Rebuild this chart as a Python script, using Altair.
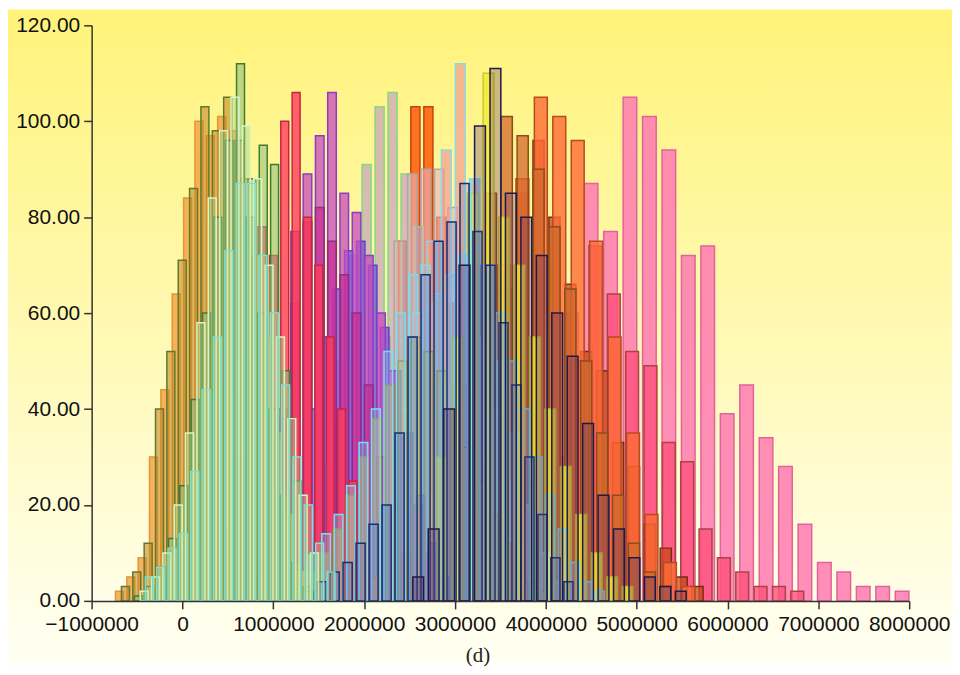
import altair as alt
import pandas as pd

# ---- data -------------------------------------------------------------
# draw order (back -> front)
names = ["U", "S", "T", "R", "Q", "K", "J", "M", "L", "I", "G", "H", "F",
         "W", "V", "O", "N", "P", "A", "B", "C", "D", "E"]
fills = ["#FF7AB2", "#FF507C", "#CA461C", "#FF6C36", "#D26A2C", "#FF5A0A",
         "#C6A2BA", "#E6B2C2", "#F39C8E", "#7C52D8", "#C84CBC", "#C42C94",
         "#FF3C5C", "#C2BA4A", "#F2EA32", "#92CAF0", "#3C72D2", "#5A3070",
         "#F6A545", "#C48A28", "#8DBE78", "#A8D88A", "#B8E0A0"]
strokes = ["#E0649A", "#A84444", "#7C2C12", "#B44C22", "#8C4C1C", "#C24410",
           "#86D886", "#B4A4A8", "#8CD8EA", "#5C42C4", "#8A3CC8", "#8C2C8C",
           "#C02848", "#8C8C32", "#C8CC24", "#72E2F2", "#1C2C74", "#1E1A4C",
           "#E0963A", "#5E7A2E", "#3E7A3C", "#D6F6C6", "#7FE0D0"]
fill_opacity = [0.85, 0.8, 0.75, 0.8, 0.75, 0.85,
                0.7, 0.6, 0.7, 0.75, 0.75, 0.7,
                0.8, 0.5, 0.8, 0.35, 0.25, 0.3,
                0.85, 0.6, 0.55, 0.45, 0.3]
# first bin centre and bin width of each series
starts = [3428000, 4142000, 3045000, 3133000, 2870000, 1992000,
          1455000, 1938000, 2442000, 1170000, 836000, 836000,
          501000, 1280000, 2859000, 1170000, 1389000, 2595000,
          -694000, -628000, -486000, -422000, -365000]
steps = [214000, 202000, 175000, 203000, 175000, 143000,
         143000, 148000, 154000, 132000, 135000, 135000,
         125000, 143000, 170000, 137000, 143000, 170000,
         125000, 125000, 125000, 125000, 125000]

counts_U = [5, 12, 25, 40, 60, 87, 77, 105, 101, 94, 72, 74, 39, 45, 34, 28, 16, 8, 6, 3, 3, 2]
counts_S = [30, 50, 74, 64, 52, 49, 33, 29, 15, 9, 6, 3, 3, 2]
counts_T = [10, 25, 45, 65, 85, 96, 80, 66, 52, 48, 33, 28, 16, 11, 5, 3]
counts_R = [25, 50, 70, 88, 105, 101, 96, 75, 55, 35, 18, 8, 3]
counts_Q = [20, 45, 70, 85, 101, 97, 90, 78, 65, 50, 35, 22, 12, 6, 3]
counts_K = [10, 22, 45, 75, 103, 103, 80, 62, 45, 30, 18, 8, 3]
counts_J = [12, 28, 50, 72, 91, 103, 106, 89, 78, 62, 45, 30, 18, 8, 3]
counts_M = [20, 35, 55, 75, 89, 90, 90, 82, 70, 55, 40, 25, 12, 5]
counts_L = [40, 60, 75, 94, 112, 88, 70, 50, 35, 20, 10, 4]
counts_I = [10, 22, 40, 55, 65, 73, 75, 70, 57, 48, 35, 22, 12, 5]
counts_G = [8, 20, 38, 62, 89, 97, 106, 85, 81, 72, 60, 48, 34, 20, 10, 4]
counts_H = [5, 15, 40, 77, 79, 82, 75, 68, 60, 45, 30, 20, 10, 4]
counts_F = [15, 30, 50, 78, 72, 100, 106, 80, 70, 55, 40, 25, 12, 5]
counts_W = [3, 6, 10, 15, 22, 30, 38, 45, 50, 55, 52, 48, 40, 32, 25, 18, 12, 7, 4, 2]
counts_V = [30, 55, 85, 110, 80, 70, 55, 40, 28, 18, 10, 5, 3]
counts_O = [3, 6, 10, 14, 18, 24, 33, 40, 52, 60, 68, 70, 64, 68, 72, 88, 70, 60, 50, 40, 30, 22, 15, 8, 4, 2]
counts_N = [2, 4, 6, 8, 12, 16, 20, 35, 55, 68, 75, 79, 87, 77, 70, 58, 45, 30, 18, 9, 4]
counts_P = [5, 15, 40, 70, 99, 111, 85, 80, 72, 60, 51, 37, 22, 15, 9, 5, 3, 2]
counts_A = [2, 5, 9, 30, 44, 64, 84, 100, 97, 101, 98, 88, 72, 55, 35, 18, 6]
counts_B = [3, 6, 12, 40, 52, 71, 86, 103, 98, 105, 96, 80, 60, 40, 22, 8, 3]
counts_C = [1, 3, 7, 13, 24, 42, 60, 80, 96, 112, 88, 95, 91, 48, 25, 10]
counts_D = [2, 5, 10, 20, 35, 58, 84, 98, 105, 99, 88, 70, 55, 38, 22, 10]
counts_E = [5, 7, 11, 14, 27, 44, 55, 73, 87, 87, 72, 60, 45, 30, 20, 12, 6]

counts = {"U": counts_U, "S": counts_S, "T": counts_T, "R": counts_R,
          "Q": counts_Q, "K": counts_K, "J": counts_J, "M": counts_M,
          "L": counts_L, "I": counts_I, "G": counts_G, "H": counts_H,
          "F": counts_F, "W": counts_W, "V": counts_V, "O": counts_O,
          "N": counts_N, "P": counts_P, "A": counts_A, "B": counts_B,
          "C": counts_C, "D": counts_D, "E": counts_E}

x_ticks = [-1000000, 0, 1000000, 2000000, 3000000, 4000000, 5000000, 6000000, 7000000, 8000000]
y_ticks = [0, 20, 40, 60, 80, 100, 120]
caption = "(d)"

# ---- table ------------------------------------------------------------
rows = []
for name, start, step, fo in zip(names, starts, steps, fill_opacity):
    for i, c in enumerate(counts[name]):
        centre = start + i * step
        rows.append({"series": name, "x": centre - 0.35 * step,
                     "x2": centre + 0.35 * step, "count": c, "base": 0, "fo": fo})
df = pd.DataFrame(rows)

W, H = 821, 578
PAD = {"left": 84, "top": 16, "right": 43, "bottom": 65}

gradient = alt.LinearGradient(
    gradient="linear", x1=0, y1=0, x2=0, y2=1,
    stops=[alt.GradientStop(color="#FFF37A", offset=0),
           alt.GradientStop(color="#FFF9B4", offset=0.5),
           alt.GradientStop(color="#FFFFF4", offset=1)])

bg = alt.Chart(alt.Data(values=[{"k": 1}])).mark_rect(fill=gradient, clip=False).encode(
    x=alt.value(-PAD["left"]), x2=alt.value(W + PAD["right"]),
    y=alt.value(-PAD["top"]), y2=alt.value(H + PAD["bottom"]))

bars = alt.Chart(df).mark_rect(strokeWidth=1.5).encode(
    x=alt.X("x:Q", scale=alt.Scale(domain=[-1000000, 8000000], nice=False, zero=False),
            axis=alt.Axis(values=x_ticks, format="d", title=None, grid=False, zindex=2,
                          labelOverlap=False, labelFlush=False,
                          labelFont="Liberation Sans",
                          labelFontSize=21, labelPadding=5)),
    x2="x2:Q",
    y=alt.Y("count:Q", scale=alt.Scale(domain=[0, 120], nice=False),
            axis=alt.Axis(values=y_ticks, format=".2f", title=None, grid=False, zindex=2,
                          labelFont="Liberation Sans", labelFontSize=21, labelPadding=4)),
    y2="base:Q",
    fill=alt.Fill("series:N", scale=alt.Scale(domain=names, range=fills), legend=None),
    stroke=alt.Stroke("series:N", scale=alt.Scale(domain=names, range=strokes), legend=None),
    fillOpacity=alt.FillOpacity("fo:Q", scale=None, legend=None),
)

cap = alt.Chart(alt.Data(values=[{"t": caption}])).mark_text(
    font="Liberation Serif", fontSize=21, color="#222222", baseline="middle", clip=False
).encode(text="t:N", x=alt.value(480 - 92), y=alt.value(657 - 24))

chart = alt.layer(bg, bars, cap).properties(
    width=W, height=H, padding=PAD,
    autosize=alt.AutoSizeParams(type="none"),
).configure_view(stroke=None).configure_axis(
    domainColor="#333333", tickColor="#333333", domainWidth=1.5, tickWidth=1.5,
    tickSize=8, labelColor="#111111")

chart.save("out.html", embed_options={"renderer": "svg", "actions": False})
